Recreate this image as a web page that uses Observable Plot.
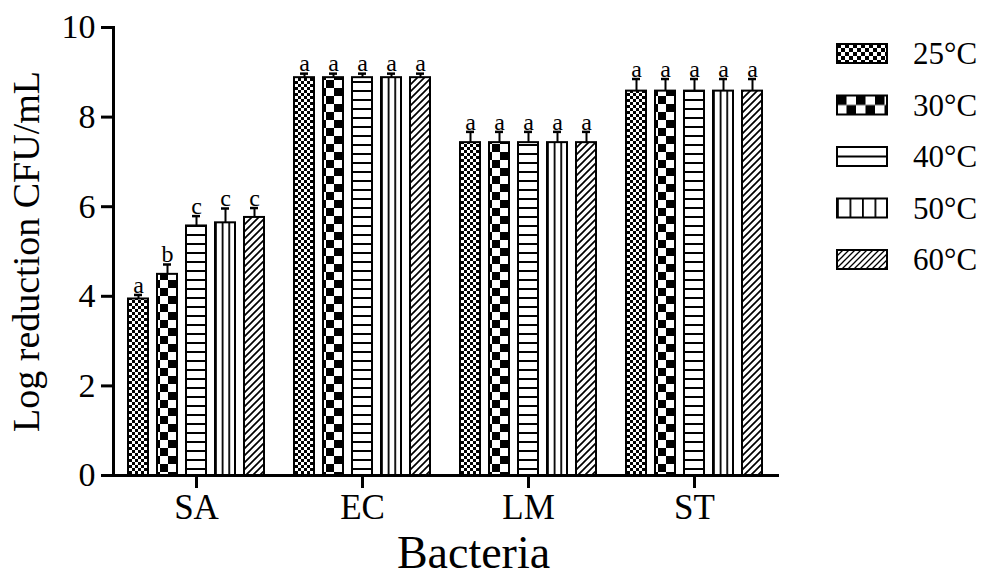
<!DOCTYPE html>
<html>
<head>
<meta charset="utf-8">
<script src="https://cdn.jsdelivr.net/npm/d3@7"></script>
<script src="https://cdn.jsdelivr.net/npm/@observablehq/plot@0.6"></script>
<style>
  html, body { margin: 0; padding: 0; background: #fff; }
  #chart svg { display: block; }
</style>
</head>
<body>
<div id="chart"></div>
<script>
// ---- data ----
const bacteria = ["SA", "EC", "LM", "ST"];
const temps = ["25°C", "30°C", "40°C", "50°C", "60°C"];
const saMean = [3.94, 4.49, 5.57, 5.64, 5.76];
const saErr  = [0.09, 0.22, 0.22, 0.32, 0.21];
const saLetters = ["a", "b", "c", "c", "c"];
const ecMean = [8.88, 8.88, 8.88, 8.88, 8.88];
const ecErr  = [0.09, 0.09, 0.09, 0.09, 0.09];
const ecLetters = ["a", "a", "a", "a", "a"];
const lmMean = [7.43, 7.43, 7.43, 7.43, 7.43];
const lmErr  = [0.24, 0.24, 0.24, 0.24, 0.24];
const lmLetters = ["a", "a", "a", "a", "a"];
const stMean = [8.58, 8.58, 8.58, 8.58, 8.58];
const stErr  = [0.27, 0.27, 0.27, 0.27, 0.27];
const stLetters = ["a", "a", "a", "a", "a"];
const yTicks = [0, 2, 4, 6, 8, 10];
const yTitle = "Log reduction CFU/mL";
const xTitle = "Bacteria";

const means = [saMean, ecMean, lmMean, stMean];
const errs = [saErr, ecErr, lmErr, stErr];
const letters = [saLetters, ecLetters, lmLetters, stLetters];
const data = bacteria.flatMap((b, i) => temps.map((t, j) => ({
  bacteria: b, temp: t, mean: means[i][j], err: errs[i][j], letter: letters[i][j]
})));

const patternIds = ["p25", "p30", "p40", "p50", "p60"];
const legendIds = ["l25", "l30", "l40", "l50", "l60"];
const FONT = "'Liberation Serif', 'Times New Roman', serif";

const chart = Plot.plot({
  width: 983,
  height: 579,
  marginLeft: 113,
  marginRight: 191,
  marginTop: 27,
  marginBottom: 104,
  style: { fontFamily: FONT, background: "#fff", color: "#000" },
  fx: { domain: bacteria, paddingInner: 0, paddingOuter: 0.033, align: 0 },
  x: { domain: temps, paddingInner: 0.3, paddingOuter: 0.5, axis: null },
  y: { domain: [0, 10], axis: null },
  color: { domain: temps, range: patternIds.map(id => `url(#${id})`) },
  marks: [
    Plot.barY(data, { fx: "bacteria", x: "temp", y: "mean", fill: "temp", stroke: "#000", strokeWidth: 2 }),
    Plot.ruleX(data, { fx: "bacteria", x: "temp", y1: "mean", y2: d => d.mean + d.err, stroke: "#000", strokeWidth: 2 }),
    Plot.tickY(data, { fx: "bacteria", x: "temp", y: d => d.mean + d.err, stroke: "#000", strokeWidth: 2.5, insetLeft: 6, insetRight: 6 }),
    Plot.text(data, { fx: "bacteria", x: "temp", y: d => d.mean + d.err, text: "letter", lineAnchor: "middle", dy: -10, fontSize: 24, fill: "#000" }),
    Plot.axisY({ ticks: yTicks, tickSize: 12, tickPadding: 6, fontSize: 34, strokeWidth: 3, label: null }),
    Plot.axisFx({ anchor: "bottom", tickSize: 13, tickPadding: 6, fontSize: 35, strokeWidth: 3, label: null }),
    Plot.frame({ anchor: "left", facet: "super", stroke: "#000", strokeWidth: 3 }),
    Plot.frame({ anchor: "bottom", facet: "super", stroke: "#000", strokeWidth: 3 }),
    Plot.text([yTitle], { frameAnchor: "left", textAnchor: "middle", rotate: -90, dx: -87, lineAnchor: "middle", fontSize: 38, facet: "super", fill: "#000" }),
    Plot.text([xTitle], { frameAnchor: "bottom", textAnchor: "middle", dx: 28, dy: 78, lineAnchor: "middle", fontSize: 46, facet: "super", fill: "#000" })
  ]
});

document.getElementById("chart").appendChild(chart);

// ---- fill patterns ----
const svg = d3.select(chart.tagName.toLowerCase() === "svg" ? chart : chart.querySelector("svg"));
const defs = svg.insert("defs", ":first-child");

function checker(id, cell) {
  const p = defs.append("pattern").attr("id", id).attr("patternUnits", "userSpaceOnUse")
    .attr("width", cell * 2).attr("height", cell * 2);
  p.append("rect").attr("width", cell * 2).attr("height", cell * 2).attr("fill", "#fff");
  p.append("rect").attr("width", cell).attr("height", cell).attr("fill", "#000");
  p.append("rect").attr("x", cell).attr("y", cell).attr("width", cell).attr("height", cell).attr("fill", "#000");
}
function hlines(id, period, offset, w) {
  const p = defs.append("pattern").attr("id", id).attr("patternUnits", "userSpaceOnUse")
    .attr("width", 10).attr("height", period);
  p.append("rect").attr("width", 10).attr("height", period).attr("fill", "#fff");
  p.append("rect").attr("y", offset).attr("width", 10).attr("height", w).attr("fill", "#000");
}
function vlinesBox(id, frac) {
  const p = defs.append("pattern").attr("id", id).attr("patternUnits", "objectBoundingBox")
    .attr("width", frac).attr("height", 1);
  p.append("rect").attr("width", 200).attr("height", 2000).attr("fill", "#fff");
  p.append("rect").attr("width", 1.8).attr("height", 2000).attr("fill", "#000");
}
function diag(id, s, w) {
  const p = defs.append("pattern").attr("id", id).attr("patternUnits", "userSpaceOnUse")
    .attr("width", s).attr("height", s);
  p.append("rect").attr("width", s).attr("height", s).attr("fill", "#fff");
  p.append("path").attr("d", `M0,${s} L${s},0 M-1,1 L1,-1 M${s - 1},${s + 1} L${s + 1},${s - 1}`)
    .attr("stroke", "#000").attr("stroke-width", w);
}
checker("p25", 3);
checker("p30", 8);
hlines("p40", 9, 0, 2);
vlinesBox("p50", 1 / 3);
diag("p60", 7, 1.7);

checker("l25", 4);
checker("l30", 9.5);
hlines("l40", 19, 8.5, 2);
vlinesBox("l50", 1 / 4);
diag("l60", 6, 1.3);

// ---- legend ----
const legend = svg.append("g").attr("font-family", FONT).attr("text-anchor", "start");
temps.forEach((t, i) => {
  const g = legend.append("g").attr("transform", `translate(837,${44 + i * 51.5})`);
  g.append("rect").attr("width", 50).attr("height", 19)
    .attr("fill", `url(#${legendIds[i]})`).attr("stroke", "#000").attr("stroke-width", 2);
  g.append("text").attr("x", 76).attr("y", 9.5).attr("dy", "0.34em")
    .attr("text-anchor", "start")
    .attr("font-size", 31).attr("fill", "#000").text(t);
});
</script>
</body>
</html>
